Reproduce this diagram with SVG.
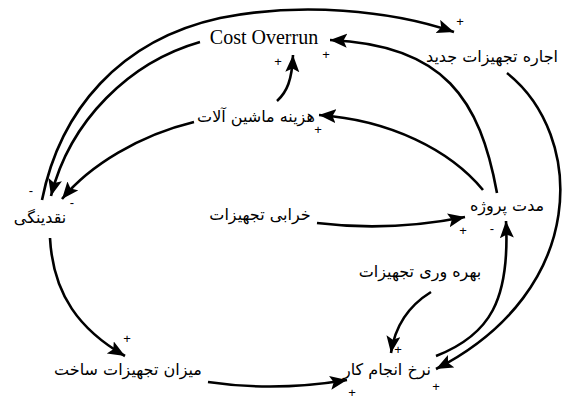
<svg xmlns="http://www.w3.org/2000/svg" width="573" height="405" viewBox="0 0 573 405">
<style>
.fa{font-family:"DejaVu Sans","Noto Sans",sans-serif;font-size:16px;fill:#000;text-anchor:middle;direction:rtl}
.en{font-family:"Liberation Serif",serif;font-size:20px;fill:#000;text-anchor:middle}
.s{font-family:"Liberation Sans",sans-serif;font-size:13px;fill:#000;text-anchor:middle}
.c{fill:none;stroke:#000;stroke-width:2.6;marker-end:url(#ah)}
</style>
<defs>
<marker id="ah" markerUnits="userSpaceOnUse" markerWidth="19" markerHeight="15" refX="17" refY="7" orient="auto">
<path d="M0,0 L17,7 L0,14 L3.5,7 z" fill="#000"/>
</marker>
</defs>
<rect width="573" height="405" fill="#fff"/>
<g id="connectors">
<path class="c" d="M42,200 C60,110 120,40 220,18 C300,2 390,10 454,32"/>
<path class="c" d="M200,42 C130,62 70,120 51,196"/>
<path class="c" d="M277,101 C287,92 292,80 293,55"/>
<path class="c" d="M194,122 C140,135 90,165 62,199"/>
<path class="c" d="M497,193 C480,100 445,45 330,40"/>
<path class="c" d="M483,190 C450,150 390,120 319,115"/>
<path class="c" d="M507,73 C585,135 590,290 436,369"/>
<path class="c" d="M436,356 C490,335 510,300 506,221"/>
<path class="c" d="M317,223 Q390,232 465,217"/>
<path class="c" d="M431,292 C410,305 395,325 391,353"/>
<path class="c" d="M50,238 C53,295 80,330 125,356"/>
<path class="c" d="M208,382 Q275,392 347,380"/>
</g>
<g id="signs">
<text class="s" x="460" y="26">+</text>
<text class="s" x="31" y="195">-</text>
<text class="s" x="72" y="207">-</text>
<text class="s" x="278" y="66">+</text>
<text class="s" x="326" y="59">+</text>
<text class="s" x="318" y="134">+</text>
<text class="s" x="463" y="235">+</text>
<text class="s" x="492" y="233">-</text>
<text class="s" x="398" y="354">+</text>
<text class="s" x="436" y="391">+</text>
<text class="s" x="352" y="397">+</text>
<text class="s" x="127" y="343">+</text>
</g>
<g id="cost-overrun"><text class="en" x="264" y="44">Cost Overrun</text></g>
<g id="ejare"><text class="fa" x="492" y="62">اجاره تجهیزات جدید</text></g>
<g id="hazine"><text class="fa" x="256" y="122">هزینه ماشین آلات</text></g>
<g id="naqdinegi"><text class="fa" x="40" y="223">نقدینگی</text></g>
<g id="kharabi"><text class="fa" x="260" y="220">خرابی تجهیزات</text></g>
<g id="moddat"><text class="fa" x="507" y="211">مدت پروژه</text></g>
<g id="bahrevari"><text class="fa" x="420" y="277">بهره وری تجهیزات</text></g>
<g id="mizan"><text class="fa" x="128" y="375">میزان تجهیزات ساخت</text></g>
<g id="nerkh"><text class="fa" x="387" y="375">نرخ انجام کار</text></g>
</svg>
